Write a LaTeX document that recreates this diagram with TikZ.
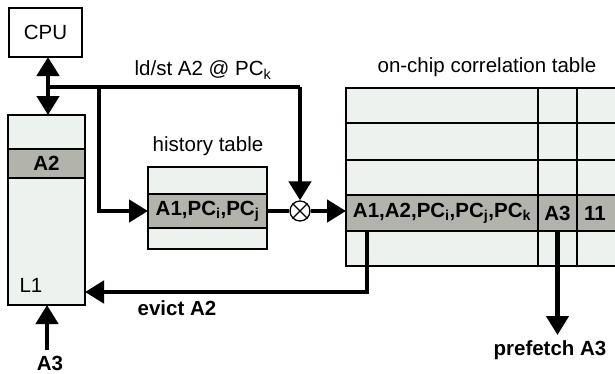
\documentclass[tikz,border=0pt]{standalone}
\usepackage{fontspec}
\setmainfont{Liberation Sans}
\usetikzlibrary{arrows.meta,calc}
\definecolor{lightfill}{RGB}{238,242,238}
\definecolor{rowgray}{RGB}{178,179,170}
\begin{document}
\begin{tikzpicture}[x=1pt,y=-1pt,
  box/.style={draw=black,line width=2.5pt,inner sep=0pt,outer sep=0pt},
  conn/.style={line width=4.5pt},
  >={Triangle[length=19pt,width=22pt]},
  lab/.style={inner sep=0pt,font=\fontsize{20.5}{24}\selectfont},
  blab/.style={inner sep=0pt,font=\fontsize{20.5}{24}\selectfont\bfseries}]
\useasboundingbox (0,0) rectangle (615,373);
\clip (0,0) rectangle (615,373);
% CPU
\node[box,lab,minimum width=73pt,minimum height=49pt] (cpu) at (45.5,32.5) {CPU};
% L1 cache
\node[box,fill=lightfill,minimum width=77pt,minimum height=190pt] (l1) at (46.5,210) {};
\node[box,blab,fill=rowgray,minimum width=77pt,minimum height=29pt] (l1a2) at (46.5,163.5) {A2};
\node[lab] (l1lab) at (31,285) {L1};
% history table
\node[lab] (histlab) at (208,146) {history table};
\node[box,fill=lightfill,minimum width=119pt,minimum height=82pt] (hist) at (207.5,208) {};
\node[box,blab,fill=rowgray,minimum width=119pt,minimum height=34pt] (histrow) at (207.5,211) {A1,PC\textsubscript{i},PC\textsubscript{j}};
% correlation table
\node[lab] (corrlab) at (487,67) {on-chip correlation table};
\node[box,fill=lightfill,minimum width=280pt,minimum height=178pt] (corr) at (486,177) {};
\node[box,fill=rowgray,minimum width=280pt,minimum height=36pt] (corrrow) at (486,213) {};
\draw[line width=2.5pt] (corr.west |- 0,123) -- (corr.east |- 0,123)
  (corr.west |- 0,160) -- (corr.east |- 0,160)
  (538,0 |- corr.north) -- (538,0 |- corr.south)
  (577,0 |- corr.north) -- (577,0 |- corr.south);
\node[blab] (c1) at (442,213) {A1,A2,PC\textsubscript{i},PC\textsubscript{j},PC\textsubscript{k}};
\node[blab] (c2) at (557.5,213) {A3};
\node[blab] (c3) at (595,213) {11};
% combiner
\node[circle,draw,line width=1.3pt,minimum size=20pt,inner sep=0pt,fill=white] (mul) at (300,211) {};
\draw[line width=1.3pt] (mul.north west) -- (mul.south east) (mul.north east) -- (mul.south west);
% junction points
\coordinate (j1) at (48,87);
\coordinate (j2) at (300,87);
\coordinate (j3) at (99,87);
\coordinate (ev) at (367,292);
\coordinate (pf) at (557.5,335);
\coordinate (a3) at (47,350);
% connectors
\draw[conn,<->] (cpu.south -| j1) -- (l1.north -| j1);
\draw[conn] (j1) -- (j2);
\draw[conn,->] (j2) -- (mul.north);
\draw[conn,->] (j3) |- (histrow.west);
\draw[conn] (histrow.east) -- (mul.west);
\draw[conn,->] (mul.east) -- (mul.east -| corrrow.west);
\draw[conn,->] (corrrow.south -| ev) -- (ev) -- (ev -| l1.east);
\draw[conn,->] (corrrow.south -| pf) -- (pf);
\draw[conn,->] (a3) -- (l1.south -| a3);
% labels
\node[lab] (ldst) at (203,70) {ld/st A2 @ PC\textsubscript{k}};
\node[blab] (evlab) at (177,308) {evict A2};
\node[blab] (pflab) at (550,350) {prefetch A3};
\node[blab] (a3lab) at (50,363) {A3};
\end{tikzpicture}
\end{document}
